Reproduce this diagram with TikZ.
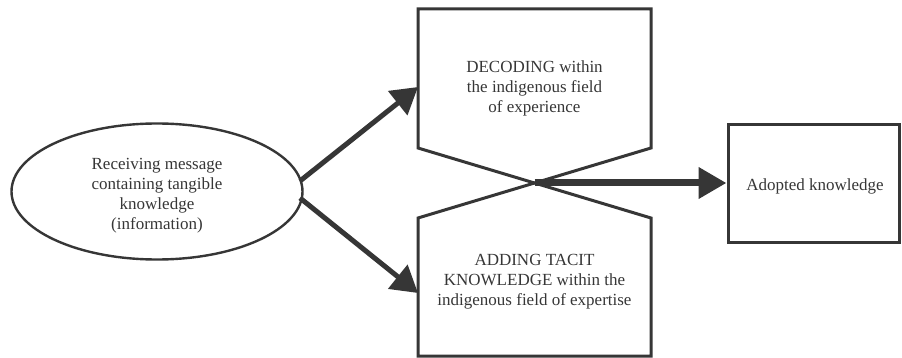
\documentclass[tikz,border=0pt]{standalone}
\usepackage{fontspec}
\setmainfont{Liberation Serif}
\usetikzlibrary{shapes.geometric,arrows.meta}
\definecolor{ink}{HTML}{363636}
\tikzset{
  outline/.style={draw=ink, line width=3pt, line join=miter},
  lbl/.style={text=ink, align=center, inner sep=0pt,
    font=\fontsize{17}{20}\selectfont},
  flow/.style={draw=ink, line width=5pt,
    -{Triangle[length=26pt,width=30pt]}},
  mainflow/.style={draw=ink, line width=7pt,
    -{Triangle[length=28pt,width=30pt]}},
}
\begin{document}
\begin{tikzpicture}[x=1pt,y=-1pt]
\useasboundingbox (0,0) rectangle (902,358);

% source message
\node[ellipse, draw=ink, line width=2.4pt, minimum width=291pt,
      minimum height=136pt, inner sep=0pt] (msg) at (157,191.5) {};
\node[lbl] (msgtext) at (157,196)
  {Receiving message\\containing tangible\\knowledge\\(information)};

% the two crossing pentagons
\coordinate (cross) at (534.5,183);
\draw[outline] (418,148) -- (418,9) -- (651,9) -- (651,148) -- (cross) -- cycle;
\draw[outline] (418,218) -- (cross) -- (651,218) -- (651,356) -- (418,356) -- cycle;
\node[lbl] (decode) at (534.5,88)
  {DECODING within\\the indigenous field\\of experience};
\node[lbl] (tacit) at (534.5,282)
  {ADDING TACIT\\KNOWLEDGE within the\\indigenous field of expertise};

% result
\node[outline, minimum width=171pt, minimum height=117pt, inner sep=0pt]
  (adopted) at (813.5,183.5) {};
\node[lbl] (adoptedtext) at (815,186) {Adopted knowledge};

% connectors
\coordinate (upstart) at (300,181);
\coordinate (lowstart) at (300,198);
\coordinate (uptip) at (418,87);
\coordinate (lowtip) at (418,293);
\draw[flow] (upstart) -- (uptip);
\draw[flow] (lowstart) -- (lowtip);
\draw[mainflow] (cross) -- (adopted.west |- cross);
\end{tikzpicture}
\end{document}
